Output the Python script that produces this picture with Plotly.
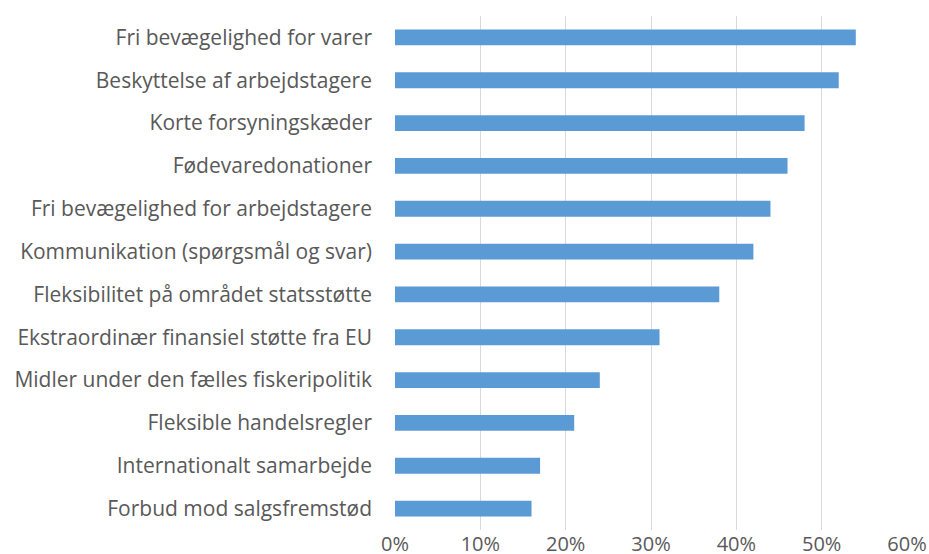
import plotly.graph_objects as go

categories = [
    "Fri bevægelighed for varer",
    "Beskyttelse af arbejdstagere",
    "Korte forsyningskæder",
    "Fødevaredonationer",
    "Fri bevægelighed for arbejdstagere",
    "Kommunikation (spørgsmål og svar)",
    "Fleksibilitet på området statsstøtte",
    "Ekstraordinær finansiel støtte fra EU",
    "Midler under den fælles fiskeripolitik",
    "Fleksible handelsregler",
    "Internationalt samarbejde",
    "Forbud mod salgsfremstød",
]
values = [0.54, 0.52, 0.48, 0.46, 0.44, 0.42, 0.38, 0.31, 0.24, 0.21, 0.17, 0.16]
tick_vals = [0, 0.1, 0.2, 0.3, 0.4, 0.5, 0.6]
tick_text = ["0%", "10%", "20%", "30%", "40%", "50%", "60%"]

fig = go.Figure(
    go.Bar(
        x=values,
        y=categories,
        orientation="h",
        marker=dict(color="#5B9BD5", line=dict(width=0)),
        width=0.37,
    )
)

fig.update_layout(
    width=929,
    height=554,
    margin=dict(l=395, r=22, t=16, b=24),
    paper_bgcolor="white",
    plot_bgcolor="white",
    showlegend=False,
    font=dict(family="Open Sans", size=21, color="#595959"),
)
fig.update_xaxes(
    range=[0, 0.6],
    tickvals=tick_vals,
    ticktext=tick_text,
    showgrid=True,
    gridcolor="#D9D9D9",
    gridwidth=1,
    zeroline=False,
    showline=False,
    ticks="",
    automargin=False,
    ticklabelstandoff=0,
    tickfont=dict(size=20, color="#595959"),
)
fig.update_yaxes(
    autorange="reversed",
    showgrid=False,
    zeroline=False,
    showline=False,
    ticks="",
    automargin=False,
    ticklabelstandoff=22,
    tickfont=dict(size=21, color="#595959"),
)

fig.write_html(
    "out.html",
    config={"displayModeBar": False},
    post_script="document.body.style.margin='0';document.body.style.overflow='hidden';",
)
